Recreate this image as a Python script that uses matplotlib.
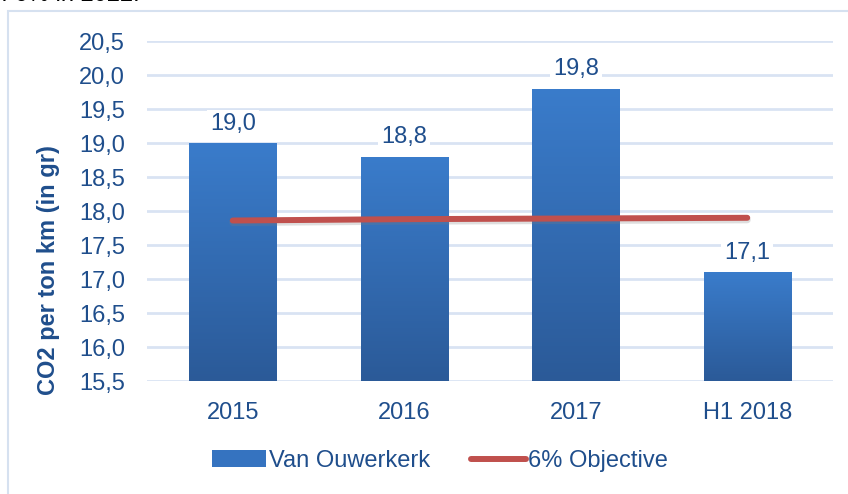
import matplotlib
matplotlib.use("Agg")
import matplotlib.pyplot as plt
import numpy as np
from matplotlib.patches import Rectangle
from matplotlib.colors import LinearSegmentedColormap

categories = ["2015", "2016", "2017", "H1 2018"]
values = [19.0, 18.8, 19.8, 17.1]
value_labels = ["19,0", "18,8", "19,8", "17,1"]
objective = [17.86, 17.88, 17.89, 17.90]
yticks = [15.5, 16.0, 16.5, 17.0, 17.5, 18.0, 18.5, 19.0, 19.5, 20.0, 20.5]
ytick_labels = ["15,5", "16,0", "16,5", "17,0", "17,5", "18,0", "18,5", "19,0", "19,5", "20,0", "20,5"]

plt.rcParams['font.family'] = ['Liberation Sans', 'DejaVu Sans']
text_col = "#1F4E8C"
W, H = 848, 494
fig = plt.figure(figsize=(W / 100, H / 100), dpi=100)

# outer frame
fig.patches.append(Rectangle((8 / W, -0.1), 1.2, 1 - 11 / H + 0.1, transform=fig.transFigure,
                             fill=False, edgecolor="#D6E1F0", linewidth=1.5))
fig.text(140 / W, 1 - 1 / H, "reduction of 6% in 2022.", ha="right", va="baseline",
         fontsize=17, color="black")

ax = fig.add_axes([147 / W, 1 - 381 / H, (833 - 147) / W, (381 - 41) / H])
x = np.arange(len(categories))
ax.set_xlim(-0.5, len(categories) - 0.5)
ax.set_ylim(15.5, 20.5)

for s in ax.spines.values():
    s.set_visible(False)
ax.set_yticks(yticks)
ax.set_yticklabels(ytick_labels, fontsize=17, color=text_col)
ax.set_xticks(x)
ax.set_xticklabels(categories, fontsize=17, color=text_col)
ax.tick_params(length=0)
ax.tick_params(axis="y", pad=16)
ax.tick_params(axis="x", pad=15)
ax.grid(axis="y", color="#D9E3F3", linewidth=2)
ax.set_axisbelow(True)

bars = ax.bar(x, [v - 15.5 for v in values], bottom=15.5, width=0.51, color="#3573C0",
              edgecolor="none", zorder=2, label="Van Ouwerkerk")
cmap = LinearSegmentedColormap.from_list("g", ["#2B5A98", "#3A7CCB"])
grad = np.linspace(0, 1, 256).reshape(-1, 1)
for b in bars:
    x0, y0 = b.get_x(), b.get_y()
    w, h = b.get_width(), b.get_height()
    ax.add_patch(Rectangle((x0 + 0.005, y0 - 0.04), w, 0.04, color="#BFBFBF", alpha=0.6, zorder=1.5, lw=0))
    im = ax.imshow(grad, cmap=cmap, origin="lower", aspect="auto",
                   extent=(x0, x0 + w, y0, y0 + h), zorder=2.1)
    im.set_clip_path(b)

for xi, v, lab in zip(x, values, value_labels):
    ax.text(xi, v + 0.12, lab, ha="center", va="bottom", fontsize=17, color=text_col, zorder=4,
            bbox=dict(facecolor="white", edgecolor="none", pad=2))

ax.plot(x, [o - 0.03 for o in objective], color="#7F7F7F", alpha=0.25, linewidth=5,
        solid_capstyle="round", zorder=2.9)
ln, = ax.plot(x, objective, color="#C0504D", linewidth=4.3, solid_capstyle="round", zorder=3,
              label="6% Objective")

ax.set_ylabel("CO2 per ton km (in gr)", fontsize=17, fontweight="bold", color=text_col)
ax.yaxis.set_label_coords(-0.127, 0.326)

leg = ax.legend(handles=[bars, ln], labels=["Van Ouwerkerk", "6% Objective"], loc="center",
                bbox_to_anchor=(0.427, -0.235), ncol=2, frameon=False, fontsize=17,
                handlelength=2.3, handletextpad=0.1, columnspacing=1.75)
for t in leg.get_texts():
    t.set_color(text_col)

fig.savefig("out.png", dpi=100)
